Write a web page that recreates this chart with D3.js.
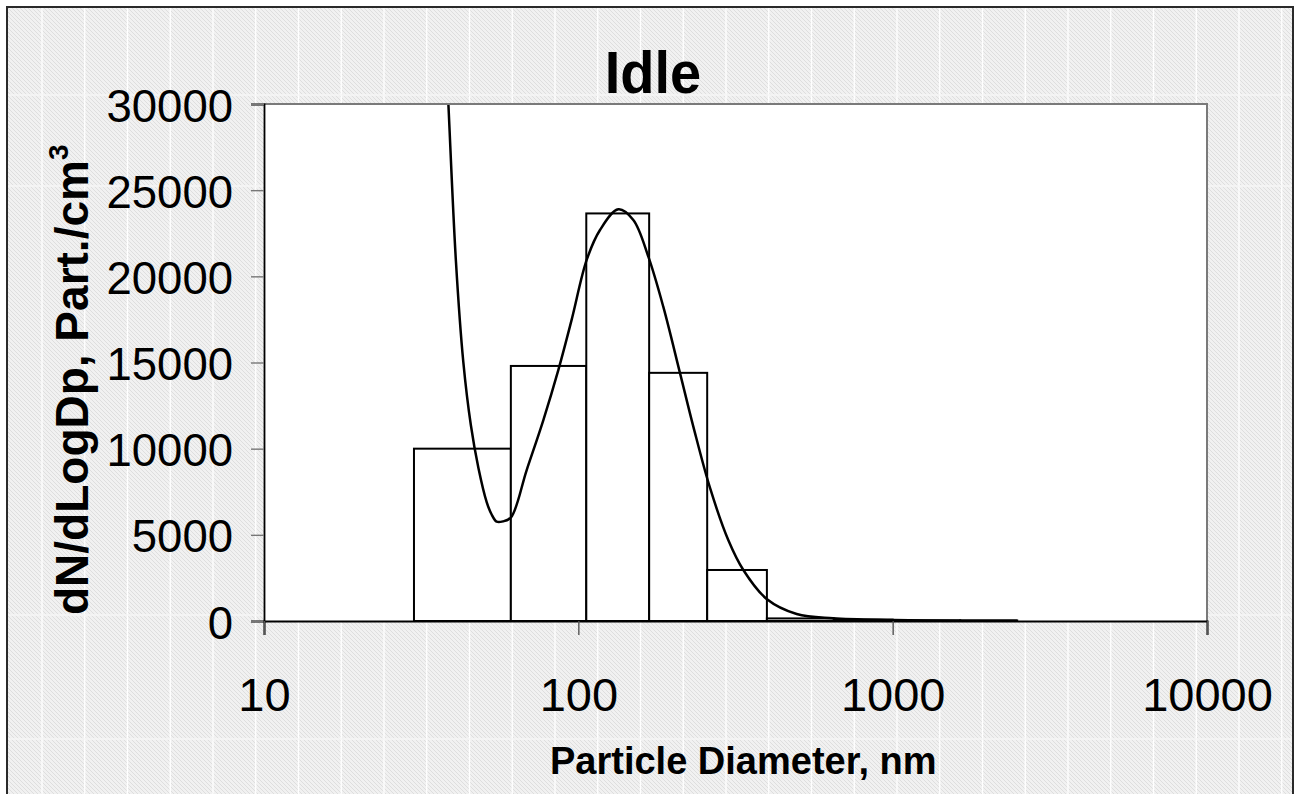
<!DOCTYPE html>
<html>
<head>
<meta charset="utf-8">
<script src="https://cdn.jsdelivr.net/npm/d3@7"></script>
<style>
  html, body { margin: 0; padding: 0; background: #fff; }
  svg { display: block; }
  text { font-family: "Liberation Sans", Arial, sans-serif; fill: #000; }
</style>
</head>
<body>
<svg id="chart" width="1295" height="794"></svg>
<script>
// ---------- data ----------
const titleText = "Idle";
const xAxisTitle = "Particle Diameter, nm";
const yAxisTitle = "dN/dLogDp, Part./cm";
const yAxisTitleSup = "3";

// histogram bins (bin edges in nm) and heights (dN/dLogDp)
const binEdges  = [30, 61, 106, 168, 257, 398, 650, 1000, 1640, 2490];
const binValues = [10000, 14800, 23650, 14400, 2960, 150, 80, 40, 30];

// fitted curve, points
const curveDiam  = [37.6, 38.6, 40.8, 43.05, 45.5, 48.1, 51.1, 52.9, 55.0, 57.6, 61.1, 68.5, 77.4, 86.4, 95.2, 106.3, 117.2, 134.1, 149.6, 167.0, 186.3, 210.7, 232.2, 262.4, 299.9, 334.9, 398.4, 495, 646, 1002, 1600, 2490];
const curveValue = [34500, 30000, 20850, 15050, 11370, 8880, 6900, 6210, 5760, 5780, 6020, 8760, 11660, 14570, 17470, 20950, 22690, 23890, 23270, 21140, 18240, 14370, 11280, 7720, 4700, 2960, 1260, 406, 157, 58, 20, 8];

const xTicks = [10, 100, 1000, 10000];
const yTicks = [0, 5000, 10000, 15000, 20000, 25000, 30000];

// ---------- layout ----------
const W = 1295, H = 794;
const plot = { left: 264, right: 1207, top: 104, bottom: 621 };

const svg = d3.select("#chart");
const defs = svg.append("defs");

// hatched background pattern
const pat = defs.append("pattern")
  .attr("id", "hatch").attr("patternUnits", "userSpaceOnUse")
  .attr("width", 4).attr("height", 4);
pat.append("rect").attr("width", 4).attr("height", 4).attr("fill", "#f1f1f1");
pat.append("path").attr("d", "M-1,-1 L5,5 M3,-1 L5,1 M-1,3 L1,5")
  .attr("stroke", "#dedede").attr("stroke-width", 1);

defs.append("clipPath").attr("id", "plotclip")
  .append("rect")
  .attr("x", plot.left).attr("y", plot.top)
  .attr("width", plot.right - plot.left).attr("height", plot.bottom - plot.top);

// frame background
svg.append("rect").attr("x", 7).attr("y", 7).attr("width", 1286).attr("height", 800)
  .attr("fill", "url(#hatch)");

// white vertical stripes & light horizontal stripes of the background texture
const bg = svg.append("g");
for (let k = 0; k < 30; k++) {
  const xx = 42 + 42.75 * k;
  if (xx > 1292) break;
  bg.append("line").attr("x1", xx).attr("x2", xx).attr("y1", 8).attr("y2", H)
    .attr("stroke", "#ffffff").attr("stroke-width", 1.3);
}
[95, 186, 615, 739].forEach(yy => {
  bg.append("line").attr("x1", 8).attr("x2", 1292).attr("y1", yy).attr("y2", yy)
    .attr("stroke", "#f6f6f6").attr("stroke-width", 1.5);
});

// outer frame
svg.append("rect").attr("x", 7).attr("y", 7).attr("width", 1286).attr("height", 800)
  .attr("fill", "none").attr("stroke", "#2a2a2a").attr("stroke-width", 2);

// ---------- scales ----------
const x = d3.scaleLog().domain([10, 10000]).range([plot.left, plot.right]);
const y = d3.scaleLinear().domain([0, 30000]).range([plot.bottom, plot.top]);

// plot area
svg.append("rect")
  .attr("x", plot.left).attr("y", plot.top)
  .attr("width", plot.right - plot.left).attr("height", plot.bottom - plot.top)
  .attr("fill", "#ffffff");

// bars
const bins = binValues.map((v, i) => ({ x0: binEdges[i], x1: binEdges[i + 1], v }));
svg.append("g").selectAll("rect").data(bins).join("rect")
  .attr("x", d => x(d.x0))
  .attr("y", d => y(d.v))
  .attr("width", d => x(d.x1) - x(d.x0))
  .attr("height", d => y(0) - y(d.v))
  .attr("fill", "#ffffff")
  .attr("stroke", "#000")
  .attr("stroke-width", 2);

// fitted curve
const pts = curveDiam.map((d, i) => [d, curveValue[i]]);
const line = d3.line()
  .x(d => x(d[0]))
  .y(d => y(d[1]))
  .curve(d3.curveCatmullRom.alpha(0.5));
svg.append("path")
  .attr("clip-path", "url(#plotclip)")
  .attr("d", line(pts))
  .attr("fill", "none")
  .attr("stroke", "#000")
  .attr("stroke-width", 2.5)
  .attr("stroke-linejoin", "round");

// plot border (top/right gray)
svg.append("path")
  .attr("d", `M${plot.left},${plot.top} H${plot.right} V${plot.bottom}`)
  .attr("fill", "none").attr("stroke", "#7a7a7a").attr("stroke-width", 2);

// ---------- axes ----------
const yAxis = d3.axisLeft(y).tickValues(yTicks).tickSize(13).tickFormat(d3.format("d"));
const gy = svg.append("g").attr("transform", `translate(${plot.left},0)`).call(yAxis);
gy.select(".domain").attr("stroke", "#000").attr("stroke-width", 1.8);
gy.selectAll(".tick line").attr("stroke", "#777").attr("stroke-width", 1.4);
gy.selectAll(".tick text")
  .attr("x", -31).attr("dy", null).attr("y", 17)
  .attr("font-size", 45.5)
  .attr("font-family", "Liberation Sans, Arial, sans-serif")
  .attr("fill", "#000");

const xAxis = d3.axisBottom(x).tickValues(xTicks).tickSize(14).tickFormat(d3.format("d"));
const gx = svg.append("g").attr("transform", `translate(0,${plot.bottom})`).call(xAxis);
gx.select(".domain").attr("stroke", "#000").attr("stroke-width", 2);
gx.selectAll(".tick line").attr("stroke", "#555").attr("stroke-width", 1.4);
gx.selectAll(".tick text")
  .attr("y", 90).attr("dy", null)
  .attr("font-size", 47)
  .attr("font-family", "Liberation Sans, Arial, sans-serif")
  .attr("fill", "#000");

// ---------- titles ----------
svg.append("text")
  .attr("transform", "translate(653,93) scale(1,1.06)")
  .attr("text-anchor", "middle")
  .attr("font-size", 56).attr("font-weight", "bold")
  .text(titleText);

svg.append("text")
  .attr("x", 550).attr("y", 774)
  .attr("font-size", 38).attr("font-weight", "bold")
  .text(xAxisTitle);

const yt = svg.append("text")
  .attr("transform", "translate(88,615) rotate(-90)")
  .attr("font-size", 46).attr("font-weight", "bold");
yt.append("tspan").text(yAxisTitle);
yt.append("tspan").attr("font-size", 28).attr("dy", -20).text(yAxisTitleSup);
</script>
</body>
</html>
